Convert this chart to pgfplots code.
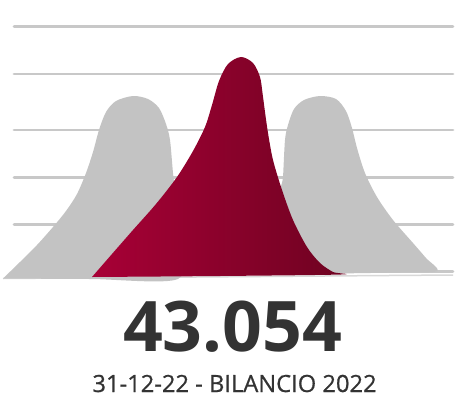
\documentclass[border=0pt]{standalone}
\usepackage{pgfplots}
\pgfplotsset{compat=1.18}
\usepackage{fontspec}
\setmainfont{Open Sans}
\newfontfamily\medfont[FakeBold=0.7]{Open Sans}
\definecolor{gline}{HTML}{C8C8C8}
\definecolor{gshape}{HTML}{C3C3C3}
\definecolor{redL}{HTML}{A80036}
\definecolor{redM}{HTML}{960030}
\definecolor{redR}{HTML}{6C0320}
\definecolor{txt}{HTML}{333333}
\begin{document}
\begin{tikzpicture}
\useasboundingbox (0,0) rectangle (471bp,407bp);
\begin{axis}[
  at={(0,0)}, anchor=south west,
  scale only axis, width=471bp, height=407bp,
  xmin=0, xmax=471, ymin=0, ymax=407, y dir=reverse,
  hide axis, clip=false,
]
% grid lines
\addplot[gline, line width=2.7bp, line cap=round] coordinates {(14,26.7) (453,26.7)};
\addplot[gline, line width=2.7bp, line cap=round] coordinates {(14,74) (453,74)};
\addplot[gline, line width=2.7bp, line cap=round] coordinates {(14,130) (453,130)};
\addplot[gline, line width=2.7bp, line cap=round] coordinates {(14,177.3) (453,177.3)};
\addplot[gline, line width=2.7bp, line cap=round] coordinates {(14,224.3) (453,224.3)};
\addplot[gline, line width=2.7bp, line cap=round] coordinates {(14,271.5) (453,271.5)};
\addplot[gline!70, line width=1.5bp] coordinates {(3,278.5) (453,275)};
% left gray
\addplot[fill=gshape, draw=none, smooth, tension=0.5] coordinates {
 (3,278.5) (20,262) (37,245) (53,227) (66,211) (77,194) (86,173) (93,152) (99,130)
 (106,112) (116,101) (133,96) (148,99) (159,108) (166,124) (170,140) (173,173)
 (176,200) (178,240) (178,279) (90,279) (3,278.5)};
% right gray
\addplot[fill=gshape, draw=none, smooth, tension=0.5] coordinates {
 (300,274) (281,200) (283,177) (285,140) (288,125) (294,109) (304,100) (320,96)
 (336,99) (346,111) (352,128) (357,148) (365,173) (377,197) (393,220) (413,243)
 (426,258) (437,271) (400,272.5) (300,274)};
% red
\addplot[draw=none, left color=redL, middle color=redM, right color=redR, smooth, tension=0.5] coordinates {
 (92,277) (112,254) (133,230) (156,204) (177,177) (193,151) (205,127) (212,105)
 (219,81) (228,64) (241,57) (253,63) (260,77) (262.5,93) (265,112) (268,133)
 (273,160) (282,190) (293,220) (307,247) (320,263) (333,272) (341,274.5)
 (220,276) (92,277)};
\node[txt, anchor=base, font=\fontsize{70}{70}\selectfont\bfseries] at (axis cs:232.5,351) {43.054};
\node[txt, anchor=base, font=\fontsize{23.8}{23.8}\selectfont\medfont] at (axis cs:234.5,392) {31-12-22 - BILANCIO 2022};
\end{axis}
\end{tikzpicture}
\end{document}
